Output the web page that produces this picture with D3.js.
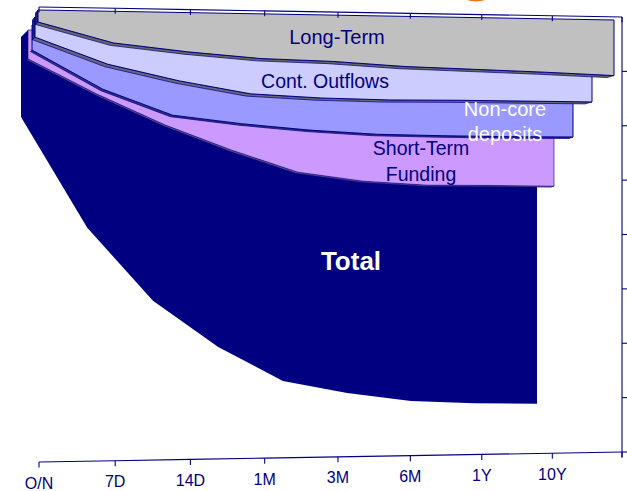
<!DOCTYPE html>
<html>
<head>
<meta charset="utf-8">
<script src="https://cdn.jsdelivr.net/npm/d3@7"></script>
<style>
  html, body { margin: 0; padding: 0; background: #fff; overflow: hidden; }
  svg { display: block; }
  text { font-family: "Liberation Sans", Arial, sans-serif; }
</style>
</head>
<body>
<svg id="chart" width="627" height="491"></svg>
<script>
// Funding ladder: tenor buckets along the floor, cumulative outflow depth down the wall.
const tenors = ["O/N", "7D", "14D", "1M", "3M", "6M", "1Y", "10Y", ""];

const totalDepth      = [1.47, 3.50, 4.84, 5.69, 6.31, 6.53, 6.68, 6.72, 6.73];
const shortTermDepth  = [0.53, 1.17, 1.73, 2.19, 2.59, 2.75, 2.82, 2.82, 2.83];
const nonCoreDepth    = [0.46, 1.17, 1.64, 1.79, 1.90, 1.97, 1.99, 2.00, 2.00];
const contingentDepth = [0.37, 0.85, 1.14, 1.36, 1.42, 1.44, 1.43, 1.43, 1.43];
const longTermDepth   = [0.22, 0.58, 0.72, 0.82, 0.85, 0.92, 0.95, 0.98, 1.02];

const valueTicks = d3.range(0, 9);
const NAVY = "#000080";

const svg = d3.select("#chart");

const last = tenors.length - 1;

// One tilted plane of the 3-D box, with its own left/right extent and top line.
// Equal tenor steps shrink slightly towards the far end, controlled by `k`.
function plane({ left, right, topL, topR, height, k = 0.95 }) {
  const recede = i => i / (i + k * (last - i));
  const u = d3.scaleLinear().domain([0, 1]).range([left, right]);
  const yL = d3.scaleLinear().domain([0, 8]).range([topL, topL + height]);
  const yR = d3.scaleLinear().domain([0, 8]).range([topR, topR + height]);
  return {
    recede,
    x: i => u(recede(i)),
    y: (i, v) => d3.interpolateNumber(yL(v), yR(v))(recede(i))
  };
}

const series = [
  { values: totalDepth, fill: NAVY, band: NAVY, geo: { left: 21, right: 537, topL: 37, topR: 37, height: 436, k: 0.97 }, side: null, bandShift: null, stroke: 0 },
  { values: shortTermDepth, fill: "#cc99ff", band: "#6b5c86", geo: { left: 28, right: 554, topL: 30, topR: 32, height: 436 }, side: null, bandShift: [-1, 1, -3, 1], stroke: 0.6 },
  { values: nonCoreDepth, fill: "#9999ff", band: "#33337f", geo: { left: 32, right: 573, topL: 25, topR: 28, height: 436 }, side: null, bandShift: [-1.5, 1.5, -4, 1.5], stroke: 1 },
  { values: contingentDepth, fill: "#ccccff", band: "#66667a", geo: { left: 35, right: 592, topL: 17, topR: 24, height: 436 }, side: [-2.5, 3], bandShift: [-2.5, 2.5, -7, 2], stroke: 1 },
  { values: longTermDepth, fill: "#c0c0c0", band: "#666666", geo: { left: 38, right: 614, topL: 10, topR: 20, height: 436 }, side: [-2.5, 3], bandShift: [-2.5, 2.5, -7, 2], stroke: 1 }
];

const wall = plane({ left: 39, right: 622, topL: 7, topR: 17, height: 435 });
const floorLine = plane({ left: 39, right: 622, topL: 462, topR: 452, height: 0 });

// Back wall top edge and floor edge
const edge = d3.line();
const wallTop = tenors.map((_, i) => [wall.x(i), wall.y(i, 0)]);
const floorEdge = tenors.map((_, i) => [floorLine.x(i), floorLine.y(i, 0)]);

svg.append("ellipse")
  .attr("cx", 476).attr("cy", -11).attr("rx", 19).attr("ry", 12.5)
  .attr("fill", "#f0701a");

// Series faces, painted from the far layer to the nearest
series.forEach(s => {
  const p = plane(s.geo);
  const idx = d3.range(tenors.length);
  const front = idx.map(i => [p.x(i), p.y(i, s.values[i])]);

  if (s.geo.left === 21) {
    // Bevel on the left flank of the deepest layer
    svg.append("path")
      .attr("d", edge([[p.x(0), p.y(0, 0)], [p.x(0) + 7, p.y(0, 0) - 7], [p.x(0) + 7, front[0][1] - 7], front[0]]) + "Z")
      .attr("fill", s.fill);
  }
  if (s.side) {
    const [dx, dy] = s.side;
    const tl = [p.x(0), p.y(0, 0)];
    svg.append("path")
      .attr("d", edge([tl, [tl[0] + dx, tl[1] + dy], [front[0][0] + dx, front[0][1] + dy], front[0]]) + "Z")
      .attr("fill", "#22227f").attr("stroke", NAVY).attr("stroke-width", 0.8);
  }
  if (s.bandShift) {
    const [dxL, dyL, dxR, dyR] = s.bandShift;
    const rear = idx.map(i => {
      const t = p.recede(i);
      return [p.x(i) + d3.interpolateNumber(dxL, dxR)(t), p.y(i, s.values[i]) + d3.interpolateNumber(dyL, dyR)(t)];
    });
    svg.append("path")
      .attr("d", edge(front.concat(rear.reverse())) + "Z")
      .attr("fill", s.band).attr("stroke", NAVY).attr("stroke-width", s.stroke * 0.7);
  }
  const outline = [[p.x(0), p.y(0, 0)], [p.x(last), p.y(last, 0)]].concat(front.slice().reverse());
  svg.append("path")
    .attr("d", edge(outline) + "Z")
    .attr("fill", s.fill)
    .attr("stroke", s.stroke ? NAVY : "none")
    .attr("stroke-width", s.stroke);
});

// Top edge, floor edge and the right-hand value axis
const axisGroup = svg.append("g").attr("stroke", NAVY).attr("fill", "none").attr("stroke-width", 1.1);
axisGroup.append("path").attr("d", edge(wallTop));
axisGroup.append("path").attr("d", edge(floorEdge));

tenors.forEach((_, i) => {
  const [tx, ty] = wallTop[i];
  axisGroup.append("line").attr("x1", tx).attr("x2", tx).attr("y1", ty).attr("y2", ty + 5.5);
  const [bx, by] = floorEdge[i];
  axisGroup.append("line").attr("x1", bx).attr("x2", bx).attr("y1", by).attr("y2", by + 5.5);
});

const rightX = wall.x(last);
axisGroup.append("line").attr("x1", rightX).attr("x2", rightX)
  .attr("y1", wall.y(last, 0)).attr("y2", wall.y(last, 8) + 5.5);
valueTicks.slice(1).forEach(v => {
  axisGroup.append("line").attr("x1", rightX).attr("x2", rightX + 5.5)
    .attr("y1", wall.y(last, v)).attr("y2", wall.y(last, v));
});

// Tenor labels follow the rising floor edge
svg.append("g").selectAll("text")
  .data(tenors.slice(0, last))
  .join("text")
  .attr("x", (_, i) => floorEdge[i][0])
  .attr("y", (_, i) => floorEdge[i][1] + 26.5)
  .attr("text-anchor", "middle")
  .attr("font-size", 16)
  .attr("fill", NAVY)
  .text(d => d);

// Layer names placed directly on their bands
const labels = [
  { text: "Long-Term", x: 337, y: 44, color: NAVY, size: 20 },
  { text: "Cont. Outflows", x: 325, y: 88, color: NAVY, size: 19.5 },
  { text: "Non-core", x: 505, y: 116, color: "#ffffff", size: 20 },
  { text: "deposits", x: 505, y: 141, color: "#ffffff", size: 20 },
  { text: "Short-Term", x: 421, y: 155, color: NAVY, size: 19.5 },
  { text: "Funding", x: 421, y: 181, color: NAVY, size: 19.5 },
  { text: "Total", x: 351, y: 270, color: "#ffffff", size: 26, weight: "bold" }
];
svg.append("g").selectAll("text")
  .data(labels)
  .join("text")
  .attr("x", d => d.x)
  .attr("y", d => d.y)
  .attr("text-anchor", "middle")
  .attr("font-size", d => d.size)
  .attr("font-weight", d => d.weight || "normal")
  .attr("fill", d => d.color)
  .text(d => d.text);
</script>
</body>
</html>
